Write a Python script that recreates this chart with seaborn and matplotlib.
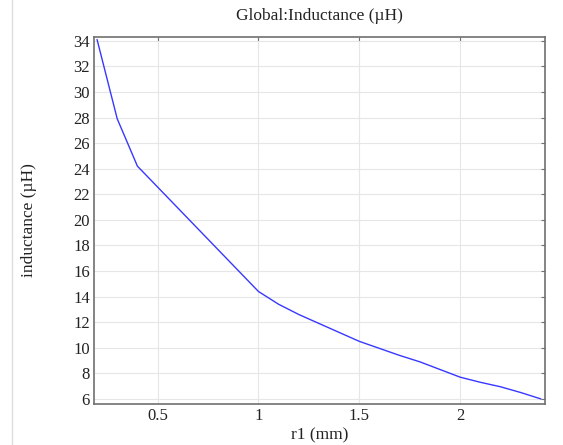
"""Inductance vs. r1 sweep, COMSOL-style line plot."""

import matplotlib

matplotlib.use("Agg")
import matplotlib.pyplot as plt
import pandas as pd
import seaborn as sns

# Sweep values
r1_mm = [0.2, 0.3, 0.4, 1.0, 1.1, 1.2, 1.3, 1.4, 1.5, 1.6, 1.7, 1.8, 1.9, 2.0,
         2.1, 2.2, 2.3, 2.4]
inductance_uH = [34.1, 27.9, 24.2, 14.4, 13.4, 12.6, 11.9, 11.2, 10.5, 9.95,
                 9.4, 8.9, 8.3, 7.7, 7.3, 6.95, 6.5, 6.0]

x_ticks = [0.5, 1, 1.5, 2]
x_tick_labels = ["0.5", "1", "1.5", "2"]
y_ticks = list(range(6, 35, 2))

df = pd.DataFrame({"r1": r1_mm, "L": inductance_uH})

sns.set_style("whitegrid")
plt.rcParams["font.family"] = ["Liberation Serif", "DejaVu Serif"]

fig = plt.figure(figsize=(5.63, 4.45), dpi=100)
ax = fig.add_axes([0.167, 0.092, 0.801, 0.825])

sns.lineplot(data=df, x="r1", y="L", color="#3838ff", linewidth=1.0, ax=ax)

ax.set_xlim(0.185, 2.42)
ax.set_ylim(5.6, 34.3)
ax.set_xticks(x_ticks)
ax.set_xticklabels(x_tick_labels)
ax.set_yticks(y_ticks)

ax.grid(True, color="#e6e6e6", linewidth=0.8)
for spine in ax.spines.values():
    spine.set_visible(True)
    spine.set_color("#707070")
    spine.set_linewidth(1.2)

ax.tick_params(direction="in", length=3, width=0.8, color="#707070",
               top=True, right=True, labelsize=12, labelcolor="#222222", pad=3)

ax.set_title("Global:Inductance (µH)", fontsize=12.5, color="#222222", pad=12)
ax.set_xlabel("r1 (mm)", fontsize=12.5, color="#222222", labelpad=2)
ax.set_ylabel("inductance (µH)", fontsize=12.5, color="#222222", labelpad=26)

# thin window border on the left like the screenshot
fig.add_artist(plt.Line2D([0.022, 0.022], [0, 1], color="#dddddd", linewidth=1))

fig.savefig("out.png", dpi=100)
